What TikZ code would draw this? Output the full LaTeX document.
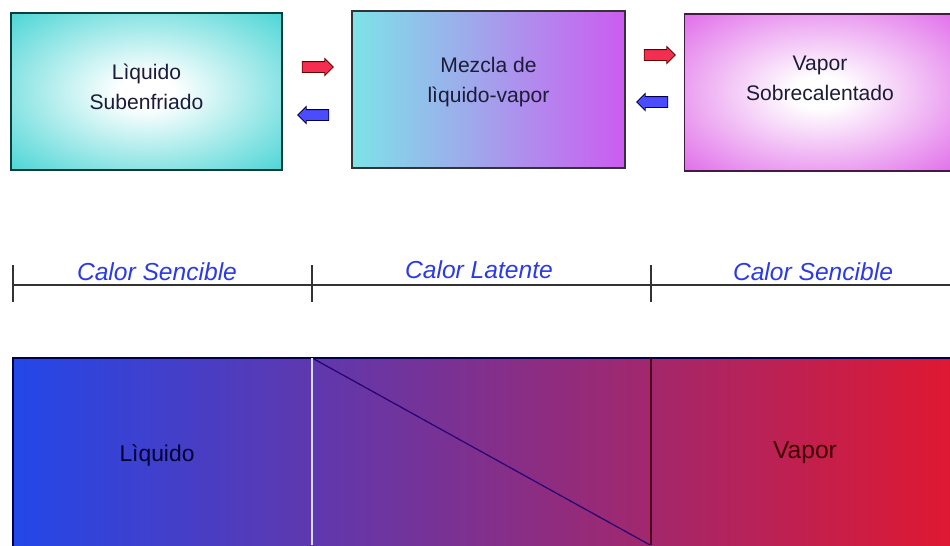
\documentclass[tikz,border=0pt]{standalone}
\usepackage{fontspec}
\setmainfont{Liberation Sans}
\usetikzlibrary{shapes.arrows,positioning}
\def\px{0.02cm}

\definecolor{cian}{HTML}{26CCCC}
\definecolor{cianclaro}{HTML}{7DE3E8}
\definecolor{magenta}{HTML}{CC5CF0}
\definecolor{rosa}{HTML}{DC58E6}
\definecolor{azul}{HTML}{2347E8}
\definecolor{morado}{HTML}{7B2C90}
\definecolor{rojo}{HTML}{E01830}
\definecolor{textoazul}{HTML}{2A3AE8}
\definecolor{tinta}{HTML}{1C1C3A}

\pgfdeclareradialshading{brilloCian}{\pgfpoint{0bp}{0bp}}{color(0bp)=(white); color(5bp)=(white); color(42bp)=(cian); color(50bp)=(cian)}
\pgfdeclareradialshading{brilloRosa}{\pgfpoint{0bp}{0bp}}{color(0bp)=(white); color(5bp)=(white); color(40bp)=(rosa); color(50bp)=(rosa)}

\begin{document}
\begin{tikzpicture}[x=\px,y=-\px]
	\tikzstyle{estado}=[draw, line width=0.8pt, minimum width=271*\px, minimum height=157*\px]
	\tikzstyle{nombre}=[align=center, text=tinta, font=\fontsize{12}{17}\selectfont]
	\tikzstyle{flecha}=[single arrow, draw, line width=0.5pt, inner sep=0.1cm, minimum height=0.62cm, minimum width=0.32cm, single arrow head extend=0.06cm]
	\tikzstyle{ida}=[flecha, fill=red!75!magenta!90!white, draw=red!40!black]
	\tikzstyle{vuelta}=[flecha, fill=blue!70!white, draw=blue!30!black, shape border rotate=180]
	\tikzstyle{calor}=[text=textoazul, font=\fontsize{14}{16}\selectfont\itshape]

	\useasboundingbox (0,0) rectangle (950,545);
	\clip (0,0) rectangle (950,545);

	% Estados de la sustancia
	\node[estado, draw=cian!30!black, shading=brilloCian] (sub) at (146.5,91.5) {};
	\node[estado, draw=black!80, minimum width=273*\px, left color=cianclaro, right color=magenta] (mez) at (488.5,89.5) {};
	\node[estado, draw=rosa!30!black, shading=brilloRosa] (sob) at (820,92.5) {};
	\node[nombre, yshift=5*\px] (sub-t) at (sub.center) {Lìquido\\Subenfriado};
	\node[nombre, yshift=7.5*\px] (mez-t) at (mez.center) {Mezcla de\\lìquido-vapor};
	\node[nombre, yshift=14*\px] (sob-t) at (sob.center) {Vapor\\Sobrecalentado};

	% Flechas entre estados
	\node[ida] (ida-1) at (315,67) {};
	\node[vuelta] (vuelta-1) at (316,115) {};
	\node[ida] (ida-2) at (657,55) {};
	\node[vuelta] (vuelta-2) at (655,102) {};

	% Eje de calor
	\coordinate (eje-ini) at (13,285);
	\coordinate (eje-fin) at (955,285);
	\draw[line width=0.7pt, black!80] (eje-ini) -- (eje-fin);
	\foreach \name / \x in {a/13,b/312,c/651}{
		\coordinate (t-\name-1) at (\x,265);
		\coordinate (t-\name-2) at (\x,302);
		\draw[line width=0.7pt, black!80] (t-\name-1) -- (t-\name-2);
	}
	\node[calor] (cs-1) at (157,272) {Calor Sencible};
	\node[calor] (cl) at (479,270) {Calor Latente};
	\node[calor] (cs-2) at (813,272) {Calor Sencible};

	% Barra de fases
	\node[draw=black!70!blue, line width=0.8pt, minimum width=945*\px, minimum height=192*\px, left color=azul, middle color=morado, right color=rojo] (barra) at (485.5,454) {};
	\coordinate (b-1) at (312,358);
	\coordinate (b-2) at (312,545);
	\coordinate (b-3) at (651,358);
	\coordinate (b-4) at (651,545);
	\coordinate (d-1) at (314,359);
	\coordinate (d-2) at (650,545);
	\draw[white!85!blue, line width=0.7pt] (b-1) -- (b-2);
	\draw[black!60!purple, line width=0.7pt] (b-3) -- (b-4);
	\draw[black!50!blue!80!purple, line width=0.7pt] (d-1) -- (d-2);
	\node[text=blue!20!black, font=\fontsize{13}{15}\selectfont] (liq) at (157,455) {Lìquido};
	\node[text=red!25!black, font=\fontsize{14}{16}\selectfont] (vap) at (805,453) {Vapor};
\end{tikzpicture}
\end{document}
